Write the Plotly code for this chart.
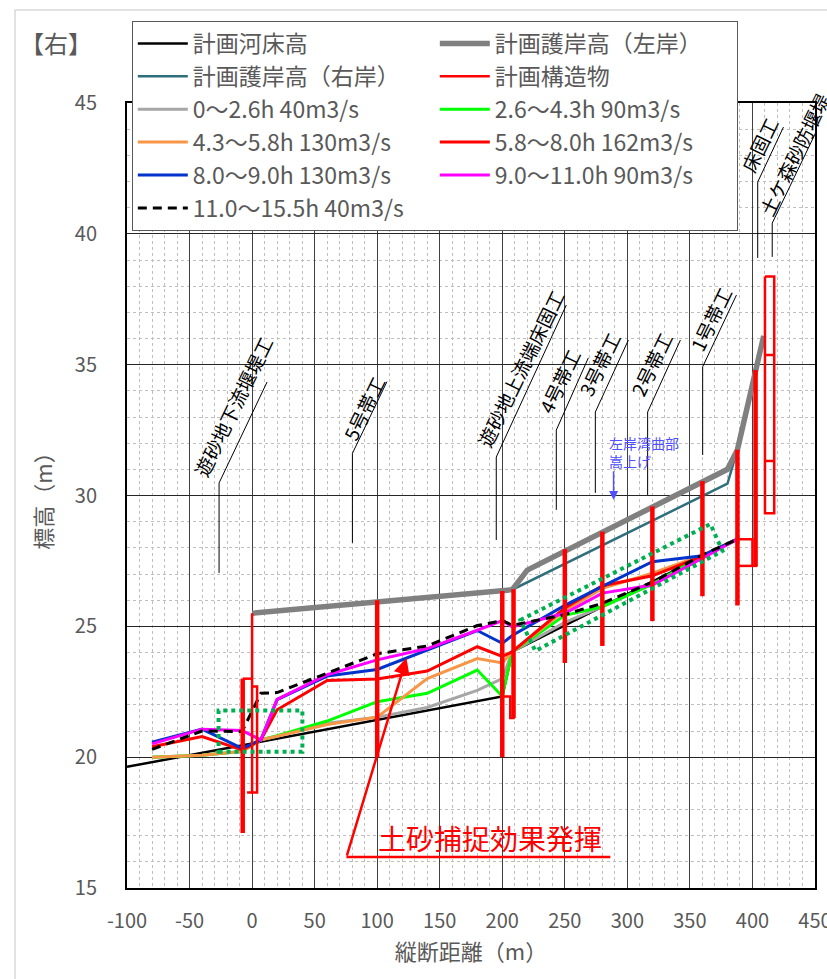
import plotly.graph_objects as go

FONT = "Noto Sans CJK JP"
TXT = "#595959"

# ---- data (m) ----
section_x = [-80, -40, -8, 7, 20, 60, 100, 140, 180, 200, 208, 250, 280, 320, 360, 388]

wl_00_26 = [20.0, 20.07, 20.22, 20.66, 20.8, 21.3, 21.53, 21.9, 22.55, 23.0, 24.03, 25.15, 25.75, 26.6, 27.65, 28.33]
wl_26_43 = [20.0, 20.07, 20.22, 20.66, 20.82, 21.38, 22.12, 22.44, 23.33, 22.33, 24.03, 25.42, 25.75, 26.62, 27.7, 28.33]
wl_43_58 = [20.0, 20.07, 20.22, 20.66, 20.8, 21.25, 21.53, 23.0, 23.77, 23.6, 24.03, 25.6, 26.45, 27.03, 27.72, 28.33]
wl_58_80 = [20.4, 20.79, 20.28, 20.66, 21.81, 22.93, 22.99, 23.29, 24.22, 23.85, 24.03, 25.7, 26.55, 26.93, 27.68, 28.33]
wl_80_90 = [20.57, 21.07, 20.34, 20.66, 22.2, 23.1, 23.35, 24.1, 24.84, 24.35, 24.65, 25.8, 26.53, 27.47, 27.7, 28.33]
wl_90_110 = [20.51, 21.07, 21.02, 20.66, 22.21, 23.15, 23.72, 24.15, 24.85, 25.22, 24.98, 25.5, 26.27, 26.58, 27.6, 28.33]
wl_110_155 = [20.3, 21.0, 20.98, 22.44, 22.47, 23.2, 23.95, 24.25, 25.03, 25.22, 25.04, 25.45, 25.88, 26.69, 27.73, 28.33]

bed_x = [-100, 200, 208, 388]
bed_y = [19.63, 22.32, 24.03, 28.33]

left_bank_x = [0, 200, 208, 220, 380, 388, 409]
left_bank_y = [25.5, 26.35, 26.4, 27.15, 31.0, 31.75, 36.1]

right_bank_x = [0, 200, 208, 380, 388]
right_bank_y = [25.5, 26.35, 26.4, 30.45, 31.75]

struct_thin_x = [0, 0, 4, 4, 0, None, -7.5, 0, None, -4, 0, None,
                 200, 206.4, 206.4, 210, None,
                 388, 400, 400, None, 388, 404, None,
                 410, 417.4, 417.4, 410, 410, None, 410, 417.4, None, 410, 417.4]
struct_thin_y = [25.5, 18.65, 18.65, 22.7, 22.7, None, 23.0, 23.0, None, 18.65, 18.65, None,
                 22.32, 22.32, 21.5, 21.5, None,
                 28.33, 28.33, 27.31, None, 27.31, 27.31, None,
                 38.37, 38.37, 29.32, 29.32, 38.37, None, 35.37, 35.37, None, 31.32, 31.32]

struct_thick_x = [-7.5, -7.5, None, 100, 100, None, 200, 200, None, 209, 209, None,
                  250, 250, None, 280, 280, None, 320, 320, None, 360, 360, None,
                  388, 388, None, 402.5, 402.5]
struct_thick_y = [23.0, 17.1, None, 26.0, 20.0, None, 26.35, 20.0, None, 26.42, 21.5, None,
                  27.95, 23.6, None, 28.62, 24.25, None, 29.58, 25.2, None, 30.55, 26.15, None,
                  31.75, 25.8, None, 34.8, 27.31]

x_ticks = [-100, -50, 0, 50, 100, 150, 200, 250, 300, 350, 400, 450]
y_ticks = [15, 20, 25, 30, 35, 40, 45]

# leader labels: text, x of vertical, y bottom, y top, slant end x, slant end y, text x, text y
leaders = [
    ("遊砂地下流堰堤工", -26.4, 27.04, 30.48, 12.0, 34.34, -15.4, 33.4),
    ("5号帯工", 80.2, 28.19, 31.61, 107.8, 34.35, 89.6, 33.35),
    ("遊砂地上流端床固工", 195.2, 28.3, 31.47, 251.2, 37.28, 214.4, 34.85),
    ("4号帯工", 243.2, 29.45, 32.5, 268.8, 35.26, 245.6, 34.4),
    ("3号帯工", 274.4, 30.1, 33.19, 300.8, 35.94, 277.6, 35.05),
    ("2号帯工", 316.2, 30.02, 33.19, 342.4, 35.94, 319.2, 35.05),
    ("1号帯工", 360.2, 31.55, 34.92, 387.2, 37.66, 366.8, 36.75),
    ("床固工", 404.2, 39.08, 41.98, 424.8, 44.08, 405.6, 43.4),
    ("土ケ森砂防堰堤", 415.8, 39.12, 40.41, 450.4, 43.85, 432.8, 43.05),
]

fig = go.Figure()

def add_line(x, y, name, color, width, rank, dash=None, showlegend=True):
    fig.add_trace(go.Scatter(
        x=x, y=y, name=name, mode="lines",
        line=dict(color=color, width=width, dash=dash),
        legendrank=rank, showlegend=showlegend, connectgaps=False,
        hoverinfo="skip"))

add_line(right_bank_x, right_bank_y, "計画護岸高（右岸）", "#2F6E7D", 2.5, 3)
add_line(left_bank_x, left_bank_y, "計画護岸高（左岸）", "#808080", 5.5, 2)
add_line(bed_x, bed_y, "計画河床高", "#000000", 2.5, 1)
add_line(section_x, wl_00_26, "0～2.6h 40m3/s", "#A6A6A6", 3, 5)
add_line(section_x, wl_26_43, "2.6～4.3h 90m3/s", "#00FF00", 3, 6)
add_line(section_x, wl_43_58, "4.3～5.8h 130m3/s", "#F79646", 3, 7)
add_line(section_x, wl_58_80, "5.8～8.0h 162m3/s", "#FF0000", 3, 8)
add_line(section_x, wl_80_90, "8.0～9.0h 130m3/s", "#0033CC", 3, 9)
add_line(section_x, wl_90_110, "9.0～11.0h 90m3/s", "#FF00FF", 3, 10)
add_line(section_x, wl_110_155, "11.0～15.5h 40m3/s", "#000000", 3, 11, dash="9px,6px")
add_line(struct_thin_x, struct_thin_y, "計画構造物", "#FF0000", 2.5, 4)
add_line(struct_thick_x, struct_thick_y, "計画構造物", "#FF0000", 4.5, 12, showlegend=False)

shapes = []
annotations = []

# outer chart border
shapes.append(dict(type="rect", xref="paper", yref="paper",
                   x0=-0.1628, x1=1.03, y0=-0.14, y1=1.1185,
                   line=dict(color="#D9D9D9", width=1.5), layer="below"))

for text, xv, yb, yt, xs, ys, tx, ty in leaders:
    shapes.append(dict(type="path", xref="x", yref="y",
                       path=f"M {xv},{yb} L {xv},{yt} L {xs},{ys}",
                       line=dict(color="#000000", width=1)))
    annotations.append(dict(x=tx, y=ty, xref="x", yref="y", text=text,
                            showarrow=False, textangle=-64,
                            font=dict(family=FONT, size=19, color="#000000"),
                            xanchor="center", yanchor="middle"))

# green dotted boxes
shapes.append(dict(type="rect", xref="x", yref="y", x0=-26.8, x1=40.2, y0=20.21, y1=21.78,
                   line=dict(color="#00B050", width=4, dash="dot")))
shapes.append(dict(type="path", xref="x", yref="y",
                   path="M 214.4,25.24 L 366.4,28.91 L 376,27.88 L 226.4,24.06 Z",
                   line=dict(color="#00B050", width=4, dash="dot")))

# red callout
shapes.append(dict(type="line", xref="x", yref="y", x0=75.4, x1=286.4, y0=16.18, y1=16.18,
                   line=dict(color="#FF0000", width=2.5)))
annotations.append(dict(x=123.4, y=23.79, ax=75.4, ay=16.18, xref="x", yref="y",
                        axref="x", ayref="y", text="", showarrow=True,
                        arrowhead=2, arrowsize=1.3, arrowwidth=2.5, arrowcolor="#FF0000"))
annotations.append(dict(x=190.4, y=16.9, xref="x", yref="y", text="土砂捕捉効果発揮",
                        showarrow=False, font=dict(family=FONT, size=28, color="#FF0000"),
                        xanchor="center", yanchor="middle"))

# blue note
annotations.append(dict(x=283.8, y=31.66, xref="x", yref="y", text="左岸湾曲部<br>嵩上げ",
                        showarrow=False, align="left",
                        font=dict(family=FONT, size=14, color="#5050FF"),
                        xanchor="left", yanchor="middle"))
annotations.append(dict(x=289, y=29.83, ax=289, ay=30.98, xref="x", yref="y",
                        axref="x", ayref="y", text="", showarrow=True,
                        arrowhead=2, arrowsize=1.2, arrowwidth=1.5, arrowcolor="#5050FF"))

# 【右】
annotations.append(dict(x=-0.158, y=1.0777, xref="paper", yref="paper", text="【右】",
                        showarrow=False, xanchor="left", yanchor="middle",
                        font=dict(family=FONT, size=24, color=TXT)))

fig.update_layout(
    width=827, height=979,
    margin=dict(l=127, r=12, t=103, b=91, autoexpand=False),
    paper_bgcolor="white", plot_bgcolor="white",
    font=dict(family=FONT, color=TXT),
    shapes=shapes, annotations=annotations,
    showlegend=True,
    legend=dict(orientation="h", x=0.007, y=1.1045, xanchor="left", yanchor="top",
                bgcolor="white", bordercolor="#595959", borderwidth=1,
                font=dict(family=FONT, size=23, color=TXT),
                entrywidth=237, entrywidthmode="pixels", itemwidth=50,
                traceorder="normal", tracegroupgap=0),
    xaxis=dict(range=[-100, 450], tickvals=x_ticks, ticktext=[str(v) for v in x_ticks],
               showgrid=True, gridcolor="#404040", gridwidth=1, zeroline=False,
               showline=True, linecolor="#000000", linewidth=2, mirror=True,
               ticks="", ticklabelstandoff=14, ticklabeloverflow="allow",
               tickfont=dict(family=FONT, size=20, color=TXT),
               minor=dict(dtick=10, tick0=0, showgrid=True, gridcolor="#BFBFBF",
                          griddash="dot", gridwidth=1),
               title=dict(text="縦断距離（m）", standoff=12,
                          font=dict(family=FONT, size=22, color=TXT))),
    yaxis=dict(range=[15, 45], tickvals=y_ticks, ticktext=[str(v) for v in y_ticks],
               showgrid=True, gridcolor="#262626", gridwidth=1, zeroline=False,
               showline=True, linecolor="#000000", linewidth=2, mirror=True,
               ticks="", ticklabelstandoff=24, ticklabeloverflow="allow",
               tickfont=dict(family=FONT, size=20, color=TXT),
               minor=dict(dtick=1, tick0=15, showgrid=True, gridcolor="#BFBFBF",
                          griddash="dot", gridwidth=1),
               title=dict(text="標高（m）", standoff=16,
                          font=dict(family=FONT, size=22, color=TXT))),
)

fig.write_html("out.html", config={"displayModeBar": False},
               post_script="document.body.style.margin='0';document.body.style.overflow='hidden';")
